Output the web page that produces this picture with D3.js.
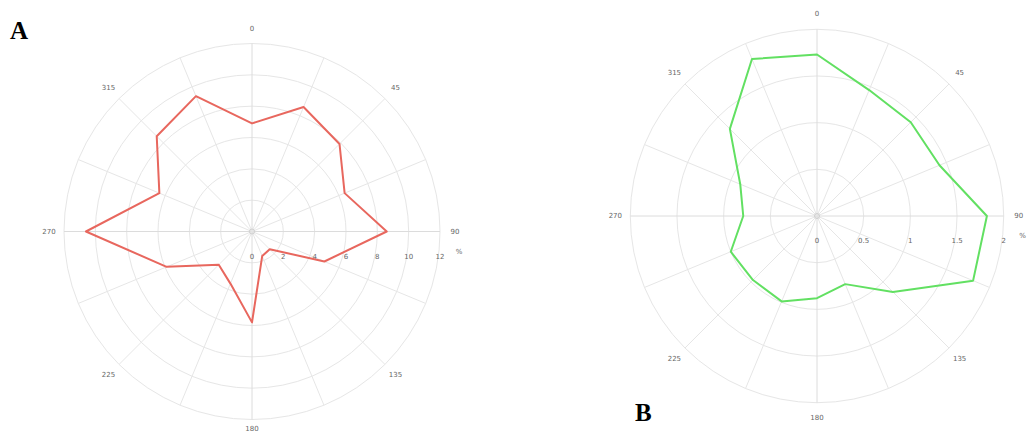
<!DOCTYPE html>
<html>
<head>
<meta charset="utf-8">
<script src="https://cdn.jsdelivr.net/npm/d3@7"></script>
<style>
  body { margin: 0; background: #fff; }
  svg { display: block; }
</style>
</head>
<body>
<svg id="drawing_region"></svg>
<script>
// directions, every 22.5 degrees clockwise from north
const directions = d3.range(0, 360, 22.5)
const angleLabels = [0, 45, 90, 135, 180, 225, 270, 315]

// panel A (%)
const valuesA = [6.9, 8.6, 7.9, 6.4, 8.6, 5.0, 1.6, 1.7, 5.8, 3.6, 3.0, 5.9, 10.6, 6.4, 8.6, 9.35]
const ticksA = [0, 2, 4, 6, 8, 10, 12]

// panel B (%)
const valuesB = [1.73, 1.46, 1.42, 1.42, 1.82, 1.81, 1.15, 0.79, 0.88, 0.99, 0.97, 1.0, 0.79, 0.89, 1.32, 1.82]
const ticksB = [0, 0.5, 1, 1.5, 2]

class PolarPlot {
    constructor(config, values, ticks) {
        this.config = config
        this.values = values
        this.ticks = ticks
        this.init()
    }

    init() {
        let self = this
        self.g = d3.select(self.config.parent).append('g')
            .attr('transform', `translate(${self.config.cx},${self.config.cy})`)
        self.rscale = d3.scaleLinear()
            .domain([0, d3.max(self.ticks)])
            .range([0, self.config.radius])
        self.ascale = d3.scaleLinear().domain([0, 360]).range([0, 2 * Math.PI])
    }

    render() {
        let self = this
        const R = self.config.radius
        const grid = '#e6e6e6'
        // keep the bottom label inside the picture
        const maxY = 434 - 5 - self.config.cy

        // circles
        self.g.selectAll('.ring')
            .data(self.ticks.filter(t => t > 0)).enter()
            .append('circle')
            .attr('r', d => self.rscale(d))
            .attr('fill', 'none')
            .attr('stroke', grid)
            .attr('stroke-width', 1)

        // spokes
        self.g.selectAll('.spoke')
            .data(directions).enter()
            .append('line')
            .attr('x1', 0).attr('y1', 0)
            .attr('x2', d => R * Math.sin(self.ascale(d)))
            .attr('y2', d => -R * Math.cos(self.ascale(d)))
            .attr('stroke', d => d % 90 === 0 ? '#dcdcdc' : grid)
            .attr('stroke-width', 1)

        self.g.append('circle').attr('r', 2.5)
            .attr('fill', 'none').attr('stroke', '#cfcfcf')

        // angle labels
        self.g.selectAll('.alab')
            .data(angleLabels).enter()
            .append('text')
            .attr('x', d => (R + 15) * Math.sin(self.ascale(d)))
            .attr('y', d => Math.min(maxY, -(R + 15) * Math.cos(self.ascale(d))))
            .attr('text-anchor', 'middle')
            .attr('dominant-baseline', 'central')
            .attr('font-family', 'DejaVu Sans, sans-serif')
            .attr('font-size', 7)
            .attr('fill', '#666')
            .text(d => d)

        // radial tick labels
        self.g.selectAll('.rlab')
            .data(self.ticks).enter()
            .append('text')
            .attr('x', d => self.rscale(d))
            .attr('y', 25)
            .attr('text-anchor', 'middle')
            .attr('dominant-baseline', 'central')
            .attr('font-family', 'DejaVu Sans, sans-serif')
            .attr('font-size', 7)
            .attr('fill', '#666')
            .text(d => d)

        self.g.append('text')
            .attr('x', R + 19).attr('y', 20)
            .attr('text-anchor', 'middle')
            .attr('dominant-baseline', 'central')
            .attr('font-family', 'DejaVu Sans, sans-serif')
            .attr('font-size', 7)
            .attr('fill', '#666')
            .text('%')

        // data polygon
        const line = d3.lineRadial()
            .angle((d, i) => self.ascale(directions[i]))
            .radius(d => self.rscale(d))
            .curve(d3.curveLinearClosed)

        self.g.append('path')
            .datum(self.values)
            .attr('d', line)
            .attr('fill', 'none')
            .attr('stroke', self.config.color)
            .attr('stroke-width', 2)
            .attr('stroke-linejoin', 'round')

        // panel letter
        d3.select(self.config.parent).append('text')
            .attr('x', self.config.letterX).attr('y', self.config.letterY)
            .attr('font-family', 'Liberation Serif, serif')
            .attr('font-weight', 'bold')
            .attr('font-size', 25)
            .attr('fill', '#000')
            .text(self.config.letter)
    }
}

d3.select('#drawing_region').attr('width', 1027).attr('height', 434)

const plotA = new PolarPlot({parent: '#drawing_region', cx: 252, cy: 231.5, radius: 188,
    color: '#e8675e', letter: 'A', letterX: 10, letterY: 39}, valuesA, ticksA)
plotA.render()

const plotB = new PolarPlot({parent: '#drawing_region', cx: 817, cy: 216, radius: 186.7,
    color: '#62e062', letter: 'B', letterX: 635, letterY: 421}, valuesB, ticksB)
plotB.render()
</script>
</body>
</html>
